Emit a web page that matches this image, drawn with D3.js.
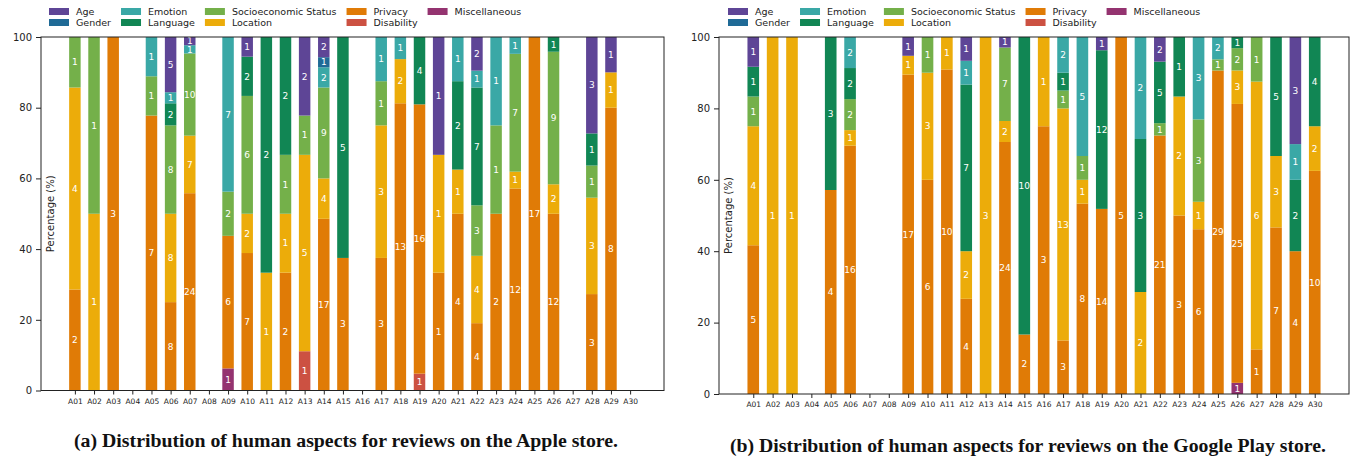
<!DOCTYPE html>
<html lang="en">
<head>
  <meta charset="UTF-8">
  <title>Human aspects per app</title>
  <script src="https://d3js.org/d3.v7.min.js"></script>
  <style>
    body { margin: 0; background: #fff; }
    svg text { font-family: "DejaVu Sans", sans-serif; }
    .caption { font-family: "Liberation Serif", "DejaVu Serif", serif !important; font-weight: bold; }
  </style>
</head>
<body>
  <svg id="chart" width="1353" height="456"></svg>

  <script>
    const apps = d3.range(1, 31).map(i => "A" + String(i).padStart(2, "0"));

    // legend order; stacking goes the other way (Miscellaneous at the bottom)
    const categories = ["Age", "Gender", "Emotion", "Language", "Socioeconomic Status",
      "Location", "Privacy", "Disability", "Miscellaneous"];
    const colors = ["#5e4596", "#1f6a96", "#3aa8a6", "#118654", "#74b04a",
      "#ecac0a", "#e07b06", "#cc5142", "#943370"];

    // counts of reviews per app, Apple store
    const appleAge = [0, 0, 0, 0, 0, 5, 1, 0, 0, 1, 0, 0, 2, 2, 0, 0, 0, 0, 0, 1, 0, 2, 0, 0, 0, 0, 0, 3, 1, 0];
    const appleGender = [0, 0, 0, 0, 0, 0, 0, 0, 0, 0, 0, 0, 0, 1, 0, 0, 0, 0, 0, 0, 0, 0, 0, 0, 0, 0, 0, 0, 0, 0];
    const appleEmotion = [0, 0, 0, 0, 1, 1, 1, 0, 7, 0, 0, 0, 0, 2, 0, 0, 1, 1, 0, 0, 1, 1, 1, 1, 0, 0, 0, 0, 0, 0];
    const appleLanguage = [0, 0, 0, 0, 0, 2, 0, 0, 0, 2, 2, 2, 0, 0, 5, 0, 0, 0, 4, 0, 2, 7, 0, 0, 0, 1, 0, 1, 0, 0];
    const appleSocio = [1, 1, 0, 0, 1, 8, 10, 0, 2, 6, 0, 1, 1, 9, 0, 0, 1, 0, 0, 0, 0, 3, 1, 7, 0, 9, 0, 1, 0, 0];
    const appleLocation = [4, 1, 0, 0, 0, 8, 7, 0, 0, 2, 1, 1, 5, 4, 0, 0, 3, 2, 0, 1, 1, 4, 0, 1, 0, 2, 0, 3, 1, 0];
    const applePrivacy = [2, 0, 3, 0, 7, 8, 24, 0, 6, 7, 0, 2, 0, 17, 3, 0, 3, 13, 16, 1, 4, 4, 2, 12, 17, 12, 0, 3, 8, 0];
    const appleDisability = [0, 0, 0, 0, 0, 0, 0, 0, 0, 0, 0, 0, 1, 0, 0, 0, 0, 0, 1, 0, 0, 0, 0, 0, 0, 0, 0, 0, 0, 0];
    const appleMisc = [0, 0, 0, 0, 0, 0, 0, 0, 1, 0, 0, 0, 0, 0, 0, 0, 0, 0, 0, 0, 0, 0, 0, 0, 0, 0, 0, 0, 0, 0];

    // counts of reviews per app, Google Play store
    const googleAge = [1, 0, 0, 0, 0, 0, 0, 0, 1, 0, 0, 1, 0, 1, 0, 0, 0, 0, 1, 0, 0, 2, 0, 0, 0, 0, 0, 0, 3, 0];
    const googleGender = [0, 0, 0, 0, 0, 0, 0, 0, 0, 0, 0, 0, 0, 0, 0, 0, 0, 0, 0, 0, 0, 0, 0, 0, 0, 0, 0, 0, 0, 0];
    const googleEmotion = [0, 0, 0, 0, 0, 2, 0, 0, 0, 0, 0, 1, 0, 0, 0, 0, 2, 5, 0, 0, 2, 0, 0, 3, 2, 0, 0, 0, 1, 0];
    const googleLanguage = [1, 0, 0, 0, 3, 2, 0, 0, 0, 0, 0, 7, 0, 0, 10, 0, 1, 0, 12, 0, 3, 5, 1, 0, 0, 1, 0, 5, 2, 4];
    const googleSocio = [1, 0, 0, 0, 0, 2, 0, 0, 0, 1, 0, 0, 0, 7, 0, 0, 1, 1, 0, 0, 0, 1, 0, 3, 1, 2, 1, 0, 0, 0];
    const googleLocation = [4, 1, 1, 0, 0, 1, 0, 0, 1, 3, 1, 2, 3, 2, 0, 1, 13, 1, 0, 0, 2, 0, 2, 1, 0, 3, 6, 3, 0, 2];
    const googlePrivacy = [5, 0, 0, 0, 4, 16, 0, 0, 17, 6, 10, 4, 0, 24, 2, 3, 3, 8, 14, 5, 0, 21, 3, 6, 29, 25, 1, 7, 4, 10];
    const googleDisability = [0, 0, 0, 0, 0, 0, 0, 0, 0, 0, 0, 0, 0, 0, 0, 0, 0, 0, 0, 0, 0, 0, 0, 0, 0, 0, 0, 0, 0, 0];
    const googleMisc = [0, 0, 0, 0, 0, 0, 0, 0, 0, 0, 0, 0, 0, 0, 0, 0, 0, 0, 0, 0, 0, 0, 0, 0, 0, 1, 0, 0, 0, 0];

    const yTicks = [0, 20, 40, 60, 80, 100];

    const svg = d3.select("#chart");
    const color = d3.scaleOrdinal().domain(categories).range(colors);

    function buildRows(series) {
      // series in legend order -> one row per app with counts and total
      return apps.map((app, i) => {
        const row = { app: app, i: i };
        categories.forEach((c, k) => row[c] = series[k][i]);
        row.total = d3.sum(series, s => s[i]);
        return row;
      });
    }

    function drawPanel(opts) {
      const rows = buildRows(opts.series);
      const g = svg.append("g");

      const x = d3.scaleLinear().domain([-1.77, 30.77]).range([opts.left, opts.right]);
      const y = d3.scaleLinear().domain([0, 100]).range([opts.bottom, opts.top]);
      const step = x(1) - x(0);
      const barW = step * 0.6;

      // percentages stacked from Miscellaneous up to Age
      const stackKeys = categories.slice().reverse();
      const stacked = d3.stack()
        .keys(stackKeys)
        .value((d, key) => d.total ? d[key] / d.total * 100 : 0)(rows);

      const layers = g.selectAll(".layer")
        .data(stacked)
        .join("g")
        .attr("class", "layer")
        .attr("fill", d => color(d.key));

      layers.selectAll("rect")
        .data(d => d.filter(s => s[1] - s[0] > 0))
        .join("rect")
        .attr("x", d => x(d.data.i) - barW / 2)
        .attr("y", d => y(d[1]))
        .attr("width", barW)
        .attr("height", d => y(d[0]) - y(d[1]));

      layers.selectAll("text")
        .data(d => d.filter(s => s[1] - s[0] > 0).map(s => ({ s: s, key: d.key })))
        .join("text")
        .attr("x", d => x(d.s.data.i))
        .attr("y", d => y((d.s[0] + d.s[1]) / 2))
        .attr("dy", "0.36em")
        .attr("text-anchor", "middle")
        .attr("fill", "#fff")
        .style("font-size", "9px")
        .text(d => d.s.data[d.key]);

      // axes
      const yAxis = g.append("g")
        .attr("transform", `translate(${opts.left},0)`)
        .call(d3.axisLeft(y).tickValues(yTicks).tickSize(5).tickPadding(4));
      yAxis.select(".domain").remove();
      yAxis.selectAll("text").style("font-size", "10px").attr("fill", "#222");
      yAxis.selectAll("line").attr("stroke", "#222");

      const xAxis = g.append("g")
        .attr("transform", `translate(0,${opts.bottom})`)
        .call(d3.axisBottom(x).tickValues(d3.range(30)).tickFormat(i => apps[i]).tickSize(4).tickPadding(4));
      xAxis.select(".domain").remove();
      xAxis.selectAll("text").style("font-size", "7.5px").attr("fill", "#222");
      xAxis.selectAll("line").attr("stroke", "#222");

      g.append("rect")
        .attr("x", opts.left)
        .attr("y", opts.top)
        .attr("width", opts.right - opts.left)
        .attr("height", opts.bottom - opts.top)
        .attr("fill", "none")
        .attr("stroke", "#222")
        .attr("stroke-width", 1);

      g.append("text")
        .attr("transform", `translate(${opts.left + 9},${(opts.top + opts.bottom) / 2}) rotate(-90)`)
        .attr("dy", "0.35em")
        .attr("text-anchor", "middle")
        .style("font-size", "10px")
        .attr("fill", "#222")
        .text("Percentage (%)");

      // legend, 2 rows, filled column by column
      const legend = g.append("g").attr("transform", `translate(${opts.legendX},8)`);
      let colX = 0;
      for (let c = 0; c < Math.ceil(categories.length / 2); c++) {
        const items = categories.slice(c * 2, c * 2 + 2);
        let maxW = 0;
        items.forEach((name, r) => {
          legend.append("rect")
            .attr("x", colX)
            .attr("y", r * 11)
            .attr("width", 20)
            .attr("height", 7)
            .attr("fill", color(name));
          const t = legend.append("text")
            .attr("x", colX + 27)
            .attr("y", r * 11 + 7)
            .style("font-size", "9.5px")
            .attr("fill", "#222")
            .text(name);
          maxW = Math.max(maxW, t.node().getComputedTextLength());
        });
        colX += 27 + maxW + 10;
      }

      svg.append("text")
        .attr("class", "caption")
        .attr("x", opts.captionX)
        .attr("y", opts.captionY)
        .attr("text-anchor", "middle")
        .attr("textLength", opts.captionW)
        .attr("lengthAdjust", "spacingAndGlyphs")
        .style("font-size", "18px")
        .attr("fill", "#111")
        .text(opts.caption);
    }

    drawPanel({
      series: [appleAge, appleGender, appleEmotion, appleLanguage, appleSocio,
        appleLocation, applePrivacy, appleDisability, appleMisc],
      left: 41, right: 664, top: 37, bottom: 390.5,
      legendX: 49,
      caption: "(a) Distribution of human aspects for reviews on the Apple store.",
      captionX: 346, captionY: 447, captionW: 544
    });

    drawPanel({
      series: [googleAge, googleGender, googleEmotion, googleLanguage, googleSocio,
        googleLocation, googlePrivacy, googleDisability, googleMisc],
      left: 719, right: 1349, top: 37, bottom: 394,
      legendX: 728,
      caption: "(b) Distribution of human aspects for reviews on the Google Play store.",
      captionX: 1028, captionY: 452, captionW: 596
    });
  </script>
</body>
</html>
